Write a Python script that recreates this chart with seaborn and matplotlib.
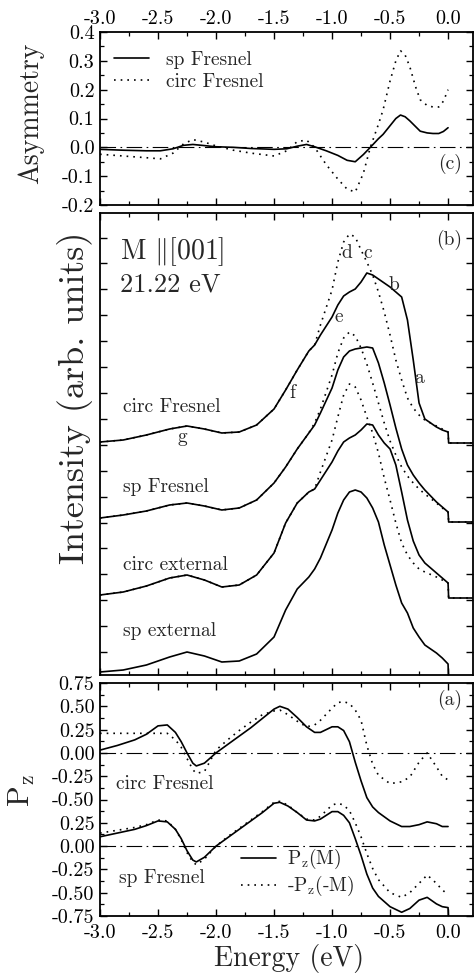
import numpy as np
import matplotlib
matplotlib.use("Agg")
import matplotlib.pyplot as plt
from matplotlib.ticker import MultipleLocator, FormatStrFormatter, FixedLocator, NullFormatter
import seaborn as sns

# ---------------- data ----------------
# panel (c): asymmetry
E_asym = [-3.0, -2.8, -2.6, -2.48, -2.37, -2.28, -2.2, -2.1, -2.0, -1.85, -1.7, -1.5, -1.39, -1.3,
          -1.22, -1.15, -1.05, -0.95, -0.87, -0.8, -0.73, -0.67, -0.6, -0.56, -0.5, -0.45, -0.41,
          -0.37, -0.33, -0.28, -0.24, -0.18, -0.13, -0.08, -0.04, 0.0]
asym_sp = [-0.007, -0.01, -0.012, -0.012, -0.005, 0.007, 0.01, 0.006, 0.002, 0.0, -0.004, -0.007,
           -0.005, 0.004, 0.01, 0.002, -0.012, -0.028, -0.045, -0.05, -0.025, 0.0, 0.03, 0.045,
           0.075, 0.1, 0.112, 0.106, 0.092, 0.072, 0.056, 0.05, 0.048, 0.048, 0.055, 0.068]
asym_circ = [-0.024, -0.03, -0.036, -0.04, -0.02, 0.012, 0.027, 0.018, 0.005, -0.01, -0.02, -0.03,
             -0.012, 0.02, 0.025, 0.0, -0.06, -0.11, -0.145, -0.155, -0.09, 0.0, 0.08, 0.13,
             0.23, 0.3, 0.335, 0.32, 0.28, 0.21, 0.165, 0.145, 0.14, 0.14, 0.16, 0.2]

# panel (b): intensity (arb. units), curves shown with their vertical offsets
E_int = [-3.0, -2.8, -2.6, -2.4, -2.25, -2.1, -1.95, -1.8, -1.65, -1.5, -1.4, -1.3, -1.2, -1.15,
         -1.1, -1.0, -0.95, -0.9, -0.85, -0.8, -0.75, -0.7, -0.65, -0.6, -0.55, -0.5, -0.45,
         -0.4, -0.35, -0.3, -0.25, -0.2, -0.1, -0.05, 0.0, 0.005, 0.22]
int_circF_solid = [233, 235, 240, 246, 249, 246, 242, 243, 250, 266, 285, 305, 324, 330, 340, 358,
                   370, 379, 383, 386, 393, 402, 400, 396, 392, 388, 383, 378, 355, 315, 272, 256,
                   248, 245, 243, 232, 232]
int_circF_dot = [233, 235, 240, 246, 249, 246, 242, 243, 250, 266, 285, 305, 324, 330, 350, 385,
                 413, 433, 441, 438, 425, 413, 400, 383, 363, 340, 315, 295, 277, 267, 260, 255,
                 249, 246, 243, 232, 232]
int_spF_solid = [157, 160, 164, 170, 172, 169, 165, 167, 175, 192, 208, 226, 242, 250, 262, 287,
                 305, 318, 324, 326, 327, 328, 327, 312, 292, 270, 247, 226, 210, 200, 192, 185,
                 173, 168, 163, 153, 153]
int_spF_dot = [157, 160, 164, 170, 172, 169, 165, 167, 175, 192, 208, 226, 242, 252, 266, 300,
               322, 337, 343, 339, 327, 311, 292, 272, 252, 234, 220, 208, 199, 192, 186, 181,
               172, 167, 163, 153, 153]
int_circE_solid = [80, 83, 89, 97, 100, 95, 88, 90, 100, 122, 152, 172, 183, 186, 195, 213, 224,
                   233, 237, 240, 245, 251, 250, 240, 232, 226, 210, 183, 155, 134, 120, 112, 102,
                   97, 92, 77, 77]
int_circE_dot = [80, 83, 89, 97, 100, 95, 88, 90, 100, 122, 152, 172, 183, 186, 203, 235, 258,
                 280, 291, 288, 275, 258, 242, 222, 197, 175, 152, 132, 120, 112, 106, 103, 98,
                 95, 92, 77, 77]
int_spE_solid = [3, 5, 10, 18, 23, 19, 13, 14, 21, 38, 65, 86, 98, 106, 117, 145, 162, 175, 183,
                 185, 183, 177, 167, 153, 130, 110, 90, 72, 62, 47, 38, 30, 22, 17, 11, -5, -5]

# panel (a): spin polarisation P_z
E_pz = [-3.0, -2.85, -2.7, -2.6, -2.5, -2.42, -2.35, -2.3, -2.25, -2.2, -2.17, -2.1, -2.0, -1.9,
        -1.8, -1.7, -1.6, -1.5, -1.45, -1.38, -1.3, -1.22, -1.15, -1.1, -1.0, -0.95, -0.9, -0.85,
        -0.8, -0.75, -0.7, -0.65, -0.6, -0.5, -0.4, -0.33, -0.25, -0.18, -0.1, -0.05, 0.0]
pz_circ_M = [0.03, 0.08, 0.14, 0.2, 0.29, 0.3, 0.22, 0.12, 0.0, -0.11, -0.14, -0.11, 0.0, 0.09,
             0.18, 0.27, 0.37, 0.47, 0.5, 0.47, 0.38, 0.28, 0.22, 0.22, 0.28, 0.28, 0.24, 0.12,
             -0.1, -0.3, -0.48, -0.58, -0.64, -0.73, -0.79, -0.79, -0.77, -0.74, -0.76, -0.79, -0.79]
pz_circ_mM = [0.21, 0.21, 0.21, 0.21, 0.21, 0.21, 0.14, 0.06, -0.06, -0.18, -0.22, -0.2, 0.03,
              0.14, 0.24, 0.33, 0.41, 0.45, 0.46, 0.41, 0.34, 0.28, 0.3, 0.35, 0.48, 0.54, 0.55,
              0.53, 0.46, 0.35, 0.08, -0.12, -0.24, -0.33, -0.31, -0.26, -0.1, 0.0, -0.15, -0.25,
              -0.29]
E_pz_sp_M = E_pz + [0.003]
pz_sp_M = [0.1, 0.14, 0.18, 0.22, 0.27, 0.26, 0.18, 0.08, -0.05, -0.15, -0.17, -0.12, 0.0, 0.09,
           0.18, 0.27, 0.36, 0.46, 0.47, 0.43, 0.36, 0.28, 0.27, 0.29, 0.37, 0.37, 0.33, 0.25,
           0.08, -0.1, -0.3, -0.45, -0.54, -0.65, -0.71, -0.67, -0.58, -0.55, -0.62, -0.65, -0.66,
           -0.76]
pz_sp_mM = [0.14, 0.17, 0.2, 0.23, 0.28, 0.27, 0.18, 0.07, -0.07, -0.17, -0.2, -0.14, 0.0, 0.1,
            0.19, 0.28, 0.37, 0.47, 0.48, 0.44, 0.36, 0.29, 0.28, 0.32, 0.44, 0.46, 0.44, 0.38,
            0.25, 0.1, -0.08, -0.24, -0.36, -0.5, -0.55, -0.5, -0.4, -0.31, -0.4, -0.47, -0.52]
pz_offset_circ = 1.0
pz_tick_pos = [-0.75, -0.5, -0.25, 0.0, 0.25, 0.5, 0.75, 1.0, 1.25, 1.5, 1.75]
pz_tick_labels = ["-0.75", "-0.50", "-0.25", "0.00", "0.25", "-0.50", "-0.25", "0.00", "0.25",
                  "0.50", "0.75"]

x_ticks = [-3.0, -2.5, -2.0, -1.5, -1.0, -0.5, 0.0]

# ---------------- style ----------------
sns.set_theme(style="ticks")
plt.rcParams["font.family"] = ["cmr10", "DejaVu Serif"]
plt.rcParams["mathtext.fontset"] = "cm"
plt.rcParams["axes.unicode_minus"] = False
plt.rcParams["axes.formatter.use_mathtext"] = False
plt.rcParams["axes.linewidth"] = 1.3
plt.rcParams["axes.edgecolor"] = "black"

TICK_FS = 14.5
DOT = (0, (1.0, 3.0))
DASHDOT = (0, (14, 4, 1.5, 4))
LW = 1.2

fig = plt.figure(figsize=(4.76, 9.77), dpi=100)
L, W = 100 / 476, 373 / 476
ax_c = fig.add_axes([L, 1 - 205 / 977, W, 173 / 977])
ax_b = fig.add_axes([L, 1 - 675 / 977, W, 462 / 977])
ax_a = fig.add_axes([L, 1 - 916 / 977, W, 233 / 977])

XLIM = (-3.0, 0.215)


def style_x(ax, labeltop=False, labelbottom=False):
    ax.set_xlim(*XLIM)
    ax.xaxis.set_major_locator(FixedLocator(x_ticks))
    ax.xaxis.set_minor_locator(MultipleLocator(0.25))
    ax.xaxis.set_major_formatter(FormatStrFormatter("%.1f"))
    ax.tick_params(axis="x", which="both", direction="in", top=True, bottom=True,
                   labeltop=labeltop, labelbottom=labelbottom, labelsize=TICK_FS, colors="black",
                   pad=6 if labelbottom else 3)
    ax.tick_params(axis="both", which="major", length=5, width=1.0)
    ax.tick_params(axis="both", which="minor", length=3, width=0.9)
    ax.tick_params(axis="y", which="both", direction="in", left=True, right=True,
                   labelsize=TICK_FS, colors="black", pad=4)
    for s in ax.spines.values():
        s.set_visible(True)
        s.set_color("black")


# ---- panel (c)
sns.lineplot(x=E_asym, y=asym_sp, ax=ax_c, color="black", lw=LW, label="sp Fresnel",
             estimator=None, sort=False)
sns.lineplot(x=E_asym, y=asym_circ, ax=ax_c, color="black", lw=LW, linestyle=DOT,
             label="circ Fresnel", estimator=None, sort=False)
ax_c.axhline(0.0, color="black", lw=0.8, linestyle=DASHDOT)
ax_c.set_ylim(-0.2, 0.4)
ax_c.yaxis.set_major_locator(MultipleLocator(0.1))
ax_c.yaxis.set_minor_locator(MultipleLocator(0.05))
ax_c.yaxis.set_major_formatter(FormatStrFormatter("%.1f"))
style_x(ax_c, labeltop=True)
ax_c.set_ylabel("Asymmetry", fontsize=20)
ax_c.yaxis.set_label_coords(-0.15, 0.53)
ax_c.legend(loc="upper left", frameon=False, fontsize=14, handlelength=1.8, handletextpad=0.9,
            borderaxespad=0.3, labelspacing=0.2, bbox_to_anchor=(0.0, 0.97))
ax_c.text(0.12, -0.058, "(c)", fontsize=14, ha="right", va="center")

# ---- panel (b)
for ys, ls in [(int_circF_solid, "-"), (int_circF_dot, DOT), (int_spF_solid, "-"),
               (int_spF_dot, DOT), (int_circE_solid, "-"), (int_circE_dot, DOT),
               (int_spE_solid, "-")]:
    sns.lineplot(x=E_int, y=ys, ax=ax_b, color="black", lw=LW, linestyle=ls,
                 estimator=None, sort=False)
ax_b.set_ylim(0, 462)
ax_b.yaxis.set_major_locator(FixedLocator(np.arange(23, 440, 25.9)))
ax_b.yaxis.set_major_formatter(NullFormatter())
style_x(ax_b)
ax_b.set_ylabel("Intensity (arb. units)", fontsize=26)
ax_b.yaxis.set_label_coords(-0.02, 0.6)
ax_b.text(-2.83, 423, r"M $\|$[001]", fontsize=20, ha="left", va="center")
ax_b.text(-2.83, 390, "21.22 eV", fontsize=19, ha="left", va="center")
ax_b.text(0.12, 435, "(b)", fontsize=14, ha="right", va="center")
for s, xx, yy in [("circ Fresnel", -2.8, 268), ("sp Fresnel", -2.8, 188),
                  ("circ external", -2.8, 110), ("sp external", -2.8, 44)]:
    ax_b.text(xx, yy, s, fontsize=14, ha="left", va="center")
for s, xx, yy in [("a", -0.25, 297), ("b", -0.47, 390), ("c", -0.69, 422), ("d", -0.87, 422),
                  ("e", -0.94, 358), ("f", -1.34, 282), ("g", -2.29, 238)]:
    ax_b.text(xx, yy, s, fontsize=14, ha="center", va="center")

# ---- panel (a)
pz_circ_M_s = [v + pz_offset_circ for v in pz_circ_M]
pz_circ_mM_s = [v + pz_offset_circ for v in pz_circ_mM]
sns.lineplot(x=E_pz, y=pz_circ_M_s, ax=ax_a, color="black", lw=LW, estimator=None, sort=False)
sns.lineplot(x=E_pz, y=pz_circ_mM_s, ax=ax_a, color="black", lw=LW, linestyle=DOT,
             estimator=None, sort=False)
sns.lineplot(x=E_pz_sp_M, y=pz_sp_M, ax=ax_a, color="black", lw=LW,
             label=r"P$_\mathregular{z}$(M)", estimator=None, sort=False)
sns.lineplot(x=E_pz, y=pz_sp_mM, ax=ax_a, color="black", lw=LW, linestyle=DOT,
             label=r"-P$_\mathregular{z}$(-M)", estimator=None, sort=False)
ax_a.axhline(pz_offset_circ, color="black", lw=0.8, linestyle=DASHDOT)
ax_a.axhline(0.0, color="black", lw=0.8, linestyle=DASHDOT)
ax_a.set_ylim(-0.75, 1.75)
ax_a.yaxis.set_major_locator(FixedLocator(pz_tick_pos))
ax_a.set_yticklabels(pz_tick_labels)
ax_a.yaxis.set_minor_locator(MultipleLocator(0.125))
style_x(ax_a, labelbottom=True)
ax_a.set_ylabel(r"P$_\mathregular{z}$", fontsize=22)
ax_a.yaxis.set_label_coords(-0.17, 0.54)
ax_a.set_xlabel("Energy (eV)", fontsize=20)
ax_a.xaxis.set_label_coords(0.507, -0.122)
ax_a.legend(loc="center left", bbox_to_anchor=(0.33, 0.185), frameon=False, fontsize=14,
            handlelength=1.8, handletextpad=0.6, labelspacing=0.15)
ax_a.text(-2.86, 0.67, "circ Fresnel", fontsize=14, ha="left", va="center")
ax_a.text(-2.84, -0.34, "sp Fresnel", fontsize=14, ha="left", va="center")
ax_a.text(0.12, 1.57, "(a)", fontsize=14, ha="right", va="center")

fig.savefig("out.png", dpi=100)
